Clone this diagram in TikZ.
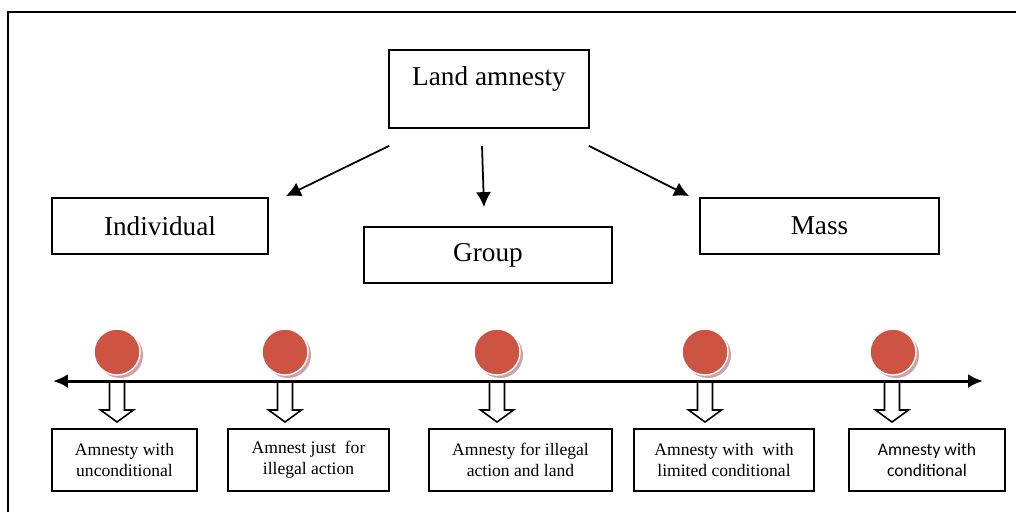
\documentclass[tikz,border=0pt]{standalone}
\usepackage{fontspec}
\setmainfont{Liberation Serif}
\newfontfamily\calibrifont{Carlito}
\usetikzlibrary{arrows.meta}

\definecolor{dotred}{HTML}{CD5343}
\definecolor{dotshade}{HTML}{C9A3A5}

\tikzset{
    topbox/.style={draw, line width=1pt, inner sep=0pt, font=\fontsize{15.5}{18}\selectfont},
    lowbox/.style={draw, line width=0.9pt, inner sep=0pt, minimum height=1.24cm, align=center, font=\fontsize{10}{12}\selectfont},
    conn/.style={line width=1pt, -{Latex[length=0.3cm, width=0.3cm]}},
    timeline/.style={line width=1.7pt, {Latex[length=0.3cm, width=0.28cm]}-{Latex[length=0.3cm, width=0.28cm]}},
    hollowarrow/.pic={
        \draw[line width=0.9pt, fill=white] (-7.5,0) -- (-7.5,27) -- (-16.5,27) -- (0,39) -- (16.5,27) -- (7.5,27) -- (7.5,0);
    }
}

\begin{document}
\begin{tikzpicture}[x=0.02cm, y=-0.02cm]
        \useasboundingbox (0,0) rectangle (1016,512);

        % frame
        \draw[line width=1.2pt] (8,512) -- (8,12) -- (1016,12);

        % top level
        \node[topbox, minimum width=4cm, text height=0.7cm, text depth=0.86cm] (land) at (489,89) {Land amnesty};
        \node[topbox, minimum width=4.32cm, minimum height=1.12cm] (indiv) at (160,226) {Individual};
        \node[topbox, minimum width=4.96cm, minimum height=1.12cm] (group) at (488,255) {Group};
        \node[topbox, minimum width=4.78cm, minimum height=1.12cm] (mass) at (819.5,226) {Mass};

        \draw[conn] ([shift={(1,17)}]land.south west) -- ([shift={(17,-1)}]indiv.north east);
        \draw[conn] ([shift={(-7,17)}]land.south) -- ([shift={(-4,-19)}]group.north);
        \draw[conn] ([shift={(-1,17)}]land.south east) -- ([shift={(-10,-1)}]mass.north west);

        % timeline
        \coordinate (tleft) at (53,381);
        \coordinate (tright) at (983,381);
        \draw[timeline] (tleft) -- (tright);

        % 1st point
        \fill[dotshade] (120,355) circle (0.46cm);
        \draw[white, line width=0.8pt, fill=dotred] (117,352) circle (0.46cm);
        \pic at (117,383) {hollowarrow};
        \node[lowbox, minimum width=2.9cm] (uncond) at (124.5,460) {Amnesty with\\unconditional};

        % 2nd point
        \fill[dotshade] (288,355) circle (0.46cm);
        \draw[white, line width=0.8pt, fill=dotred] (285,352) circle (0.46cm);
        \pic at (285,383) {hollowarrow};
        \node[lowbox, minimum width=3.22cm] (action) at (308.5,460) {Amnest just~ for\\illegal action};

        % 3rd point
        \fill[dotshade] (500,355) circle (0.46cm);
        \draw[white, line width=0.8pt, fill=dotred] (497,352) circle (0.46cm);
        \pic at (497,383) {hollowarrow};
        \node[lowbox, minimum width=3.66cm] (actland) at (520.5,460) {Amnesty for illegal\\action and land};

        % 4th point
        \fill[dotshade] (708,355) circle (0.46cm);
        \draw[white, line width=0.8pt, fill=dotred] (705,352) circle (0.46cm);
        \pic at (705,383) {hollowarrow};
        \node[lowbox, minimum width=3.6cm] (limited) at (724,460) {Amnesty with~ with\\limited conditional};

        % 5th point
        \fill[dotshade] (896,355) circle (0.46cm);
        \draw[white, line width=0.8pt, fill=dotred] (893,352) circle (0.46cm);
        \pic at (892,383) {hollowarrow};
        \node[lowbox, minimum width=3.12cm, font=\calibrifont\fontsize{10}{12}\selectfont] (cond) at (927,460) {Amnesty with\\conditional};
    \end{tikzpicture}
\end{document}
